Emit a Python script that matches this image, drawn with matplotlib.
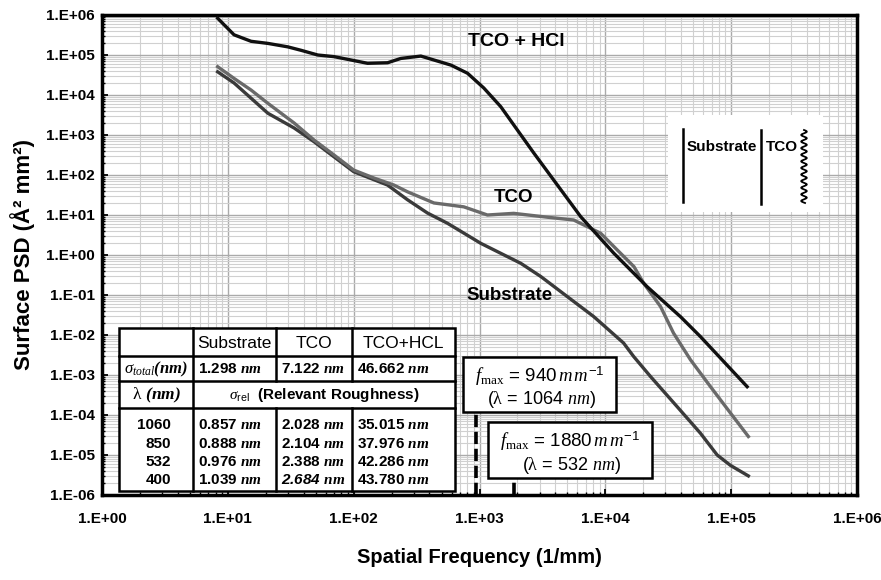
import numpy as np
import matplotlib
matplotlib.use('Agg')
import matplotlib.pyplot as plt
import matplotlib.transforms as mtransforms
from matplotlib.patches import Rectangle
from matplotlib.lines import Line2D
from matplotlib.ticker import LogLocator, NullFormatter

# PSD curves: spatial frequency (1/mm) and PSD (A^2 mm^2)
hcl_f = [8.3, 11.2, 15.3, 20.8, 29.9, 38.2, 51.8, 69.8, 95.2, 129, 186, 237, 342,
         434, 592, 803, 1081, 1476, 2004, 2700, 3467, 6368, 11640, 21500, 39600,
         57000, 1.34e5]
hcl_psd = [8.3e5, 3.2e5, 2.2e5, 1.95e5, 1.6e5, 1.31e5, 1.0e5, 9.1e4, 7.5e4, 6.2e4,
           6.4e4, 8.2e4, 9.4e4, 7.5e4, 5.6e4, 3.5e4, 1.5e4, 5.1e3, 1.32e3, 355,
           122, 9.1, 1.12, 0.161, 0.0286, 9.1e-3, 5.1e-4]

tco_f = [8.3, 11.2, 15.3, 20.8, 33.6, 48.4, 69.8, 100, 145, 209, 268, 434, 750,
         1156, 1870, 3467, 5600, 7200, 9180, 12450, 16900, 20100, 27500, 34800,
         47500, 68500, 98700, 1.37e5]
tco_psd = [5.1e4, 2.6e4, 1.33e4, 6.2e3, 2.0e3, 750, 316, 133, 84, 56, 38, 20, 16,
           10, 11, 8.8, 7.5, 5.1, 3.5, 1.33, 0.51, 0.2, 0.051, 0.0112, 2.4e-3,
           5.1e-4, 1.12e-4, 2.9e-5]

sub_f = [8.3, 11.2, 20.8, 33.6, 48.4, 100, 186, 268, 386, 557, 1023, 2128, 3069,
         4990, 8070, 13960, 16790, 22900, 37300, 57000, 77400, 98700, 1.37e5]
sub_psd = [3.8e4, 2.0e4, 3.5e3, 1.5e3, 680, 121, 56, 24, 11.2, 6.2, 1.96, 0.62,
           0.29, 0.091, 0.029, 6.3e-3, 2.9e-3, 9.1e-4, 1.6e-4, 3.5e-5, 1.0e-5,
           5.5e-6, 3.0e-6]

x_ticks = [1e0, 1e1, 1e2, 1e3, 1e4, 1e5, 1e6]
x_tick_labels = ['1.E+00', '1.E+01', '1.E+02', '1.E+03', '1.E+04', '1.E+05', '1.E+06']
y_ticks = [1e-6, 1e-5, 1e-4, 1e-3, 1e-2, 1e-1, 1e0, 1e1, 1e2, 1e3, 1e4, 1e5, 1e6]
y_tick_labels = ['1.E-06', '1.E-05', '1.E-04', '1.E-03', '1.E-02', '1.E-01', '1.E+00',
                 '1.E+01', '1.E+02', '1.E+03', '1.E+04', '1.E+05', '1.E+06']

# roughness table
table_cols = ['Substrate', 'TCO', 'TCO+HCL']
sigma_total = ['1.298', '7.122', '46.662']
wavelengths = ['1060', '850', '532', '400']
sigma_rel = [['0.857', '2.028', '35.015'],
             ['0.888', '2.104', '37.976'],
             ['0.976', '2.388', '42.286'],
             ['1.039', '2.684', '43.780']]

# f_max markers
fmax_vals = [940, 1880]
fmax_lambda = [1064, 532]

plt.rcParams['font.family'] = ['Liberation Sans', 'DejaVu Sans']
plt.rcParams['mathtext.fontset'] = 'custom'
plt.rcParams['mathtext.rm'] = 'Liberation Serif'
plt.rcParams['mathtext.it'] = 'Liberation Serif:italic'
plt.rcParams['mathtext.bf'] = 'Liberation Serif:bold:italic'
plt.rcParams['mathtext.sf'] = 'Liberation Sans'

W, H = 881, 580
fig = plt.figure(figsize=(W / 100, H / 100), dpi=100)

def fx(px):
    return px / W

def fy(py):
    return 1 - py / H

ax_l, ax_r, ax_t, ax_b = 102, 857, 15, 495
ax = fig.add_axes([fx(ax_l), fy(ax_b), fx(ax_r) - fx(ax_l), fy(ax_t) - fy(ax_b)])
ax.set_xscale('log')
ax.set_yscale('log')
ax.set_xlim(1, 1e6)
ax.set_ylim(1e-6, 1e6)

ax.plot(sub_f, sub_psd, color='#3a3a3a', lw=2.4, zorder=3, solid_joinstyle='round')
ax.plot(tco_f, tco_psd, color='#6a6a6a', lw=2.4, zorder=3, solid_joinstyle='round')
ax.plot(hcl_f, hcl_psd, color='#101010', lw=2.4, zorder=4, solid_joinstyle='round')

ax.set_xticks(x_ticks)
ax.set_xticklabels(x_tick_labels)
ax.set_yticks(y_ticks)
ax.set_yticklabels(y_tick_labels)
plt.setp(ax.get_xticklabels() + ax.get_yticklabels(), fontweight='bold')
for axis in (ax.xaxis, ax.yaxis):
    axis.set_minor_locator(LogLocator(base=10, subs=np.arange(2, 10), numticks=200))
    axis.set_minor_formatter(NullFormatter())
ax.grid(which='major', color='#aaaaaa', lw=1.0)
ax.grid(which='minor', color='#d0d0d0', lw=0.8)
ax.set_axisbelow(True)
ax.tick_params(which='major', direction='in', length=4, width=1.3, labelsize=11)
ax.tick_params(which='minor', direction='in', length=2.5, width=1.0)
ax.tick_params(axis='x', pad=12)
ax.tick_params(axis='y', pad=5)
for s in ax.spines.values():
    s.set_linewidth(2.5)

ax.set_xlabel('Spatial Frequency (1/mm)', fontsize=14.5, fontweight='bold', labelpad=16)
ax.set_ylabel('Surface PSD (Å² mm²)', fontsize=16, fontweight='bold', labelpad=8)

# curve labels
fig.text(fx(468), fy(42), 'TCO + HCl', fontsize=14, fontweight='bold', va='center', ha='left')
fig.text(fx(513), fy(197), 'TCO', fontsize=13.5, fontweight='bold', va='center', ha='center')
fig.text(fx(510), fy(296), 'Substrate', fontsize=13.5, fontweight='bold', va='center', ha='center')

# dashed f_max lines down from their boxes
blend = mtransforms.blended_transform_factory(ax.transData, ax.transAxes)
box_px = [(463, 357, 616, 412), (488, 422, 652, 478)]
for f, (bl, bt, br, bb) in zip(fmax_vals, box_px):
    yb = (ax_b - bb) / (ax_b - ax_t)
    ax.plot([f, f], [0, yb], transform=blend, color='black', lw=2.6,
            dashes=(3.4, 1.3), zorder=5, clip_on=False)

for f, lam, (bl, bt, br, bb) in zip(fmax_vals, fmax_lambda, box_px):
    fig.add_artist(Rectangle((fx(bl), fy(bb)), fx(br) - fx(bl), fy(bt) - fy(bb),
                             transform=fig.transFigure, fc='white', ec='black',
                             lw=1.8, zorder=2))
    cx = (bl + br) / 2
    fig.text(fx(cx), fy(bt + 19), r'$f_{\mathrm{max}}$ = %d$\,m\,m^{\mathsf{-1}}$' % f,
             fontsize=13.5, ha='center', va='center', zorder=3)
    fig.text(fx(cx + 2), fy(bt + 43), r'($\mathrm{\lambda}$ = %d $nm$)' % lam,
             fontsize=13, ha='center', va='center', zorder=3)

# table
t_l, t_r, t_t, t_b = 119, 455, 328, 491
c1, c2, c3 = 193, 276, 352
r1, r2, r3 = 356, 381, 408
fig.add_artist(Rectangle((fx(t_l), fy(t_b)), fx(t_r) - fx(t_l), fy(t_t) - fy(t_b),
                         transform=fig.transFigure, fc='white', ec='black',
                         lw=1.8, zorder=2))

def fline(x0, y0, x1, y1):
    fig.add_artist(Line2D([fx(x0), fx(x1)], [fy(y0), fy(y1)], transform=fig.transFigure,
                          color='black', lw=1.8, zorder=2.5))

for ry in (r1, r2, r3):
    fline(t_l, ry, t_r, ry)
fline(c1, t_t, c1, t_b)
for cx in (c2, c3):
    fline(cx, t_t, cx, r2)
    fline(cx, r3, cx, t_b)

col_left = [c1, c2, c3]
col_right = [c2, c3, t_r]
for name, a, b in zip(table_cols, col_left, col_right):
    fig.text(fx((a + b) / 2), fy(343), name, fontsize=12.5,
             ha='center', va='center', zorder=3)

fig.text(fx((t_l + c1) / 2), fy(369), r'$\sigma_{total}$$\mathbf{(nm)}$', fontsize=12,
         ha='center', va='center', zorder=3)
for val, a in zip(sigma_total, col_left):
    fig.text(fx(a + 5), fy(369), val + r' $\mathbf{nm}$', fontsize=11, fontweight='bold',
             ha='left', va='center', zorder=3)

fig.text(fx((t_l + c1) / 2), fy(395), r'$\mathrm{\lambda}$ $\mathbf{(nm)}$', fontsize=12.5,
         ha='center', va='center', zorder=3)
fig.text(fx((c1 + t_r) / 2), fy(395), r'$\sigma_{\mathsf{rel}}$  (Relevant Roughness)',
         fontsize=11, fontweight='bold', ha='center', va='center', zorder=3)

row_y = [425, 444, 462, 480]
for i, (wl, vals) in enumerate(zip(wavelengths, sigma_rel)):
    fig.text(fx(171), fy(row_y[i]), wl, fontsize=11, fontweight='bold',
             ha='right', va='center', zorder=3)
    for j, (val, a) in enumerate(zip(vals, col_left)):
        st = 'italic' if (i == 3 and j == 1) else 'normal'
        fig.text(fx(a + 5), fy(row_y[i]), val + r' $\mathbf{nm}$', fontsize=11,
                 fontweight='bold', style=st, ha='left', va='center', zorder=3)

# inset sketch of the layer stack
fig.add_artist(Rectangle((fx(668), fy(212)), fx(823) - fx(668), fy(115) - fy(212),
                         transform=fig.transFigure, fc='white', ec='none', zorder=2))
fline(683, 129, 683, 202)
fline(761, 130, 761, 204)
fig.text(fx(687), fy(147), 'Substrate', fontsize=11, fontweight='bold',
         ha='left', va='center', zorder=3)
fig.text(fx(766), fy(147), 'TCO', fontsize=11, fontweight='bold',
         ha='left', va='center', zorder=3)
wy = np.linspace(130, 203, 300)
wx = 804 + 2.8 * np.sin(2 * np.pi * (wy - 130) / 6.6)
fig.add_artist(Line2D(fx(wx), fy(wy), transform=fig.transFigure, color='black',
                      lw=1.3, zorder=2.5))

fig.savefig('out.png', dpi=100, facecolor='white')
